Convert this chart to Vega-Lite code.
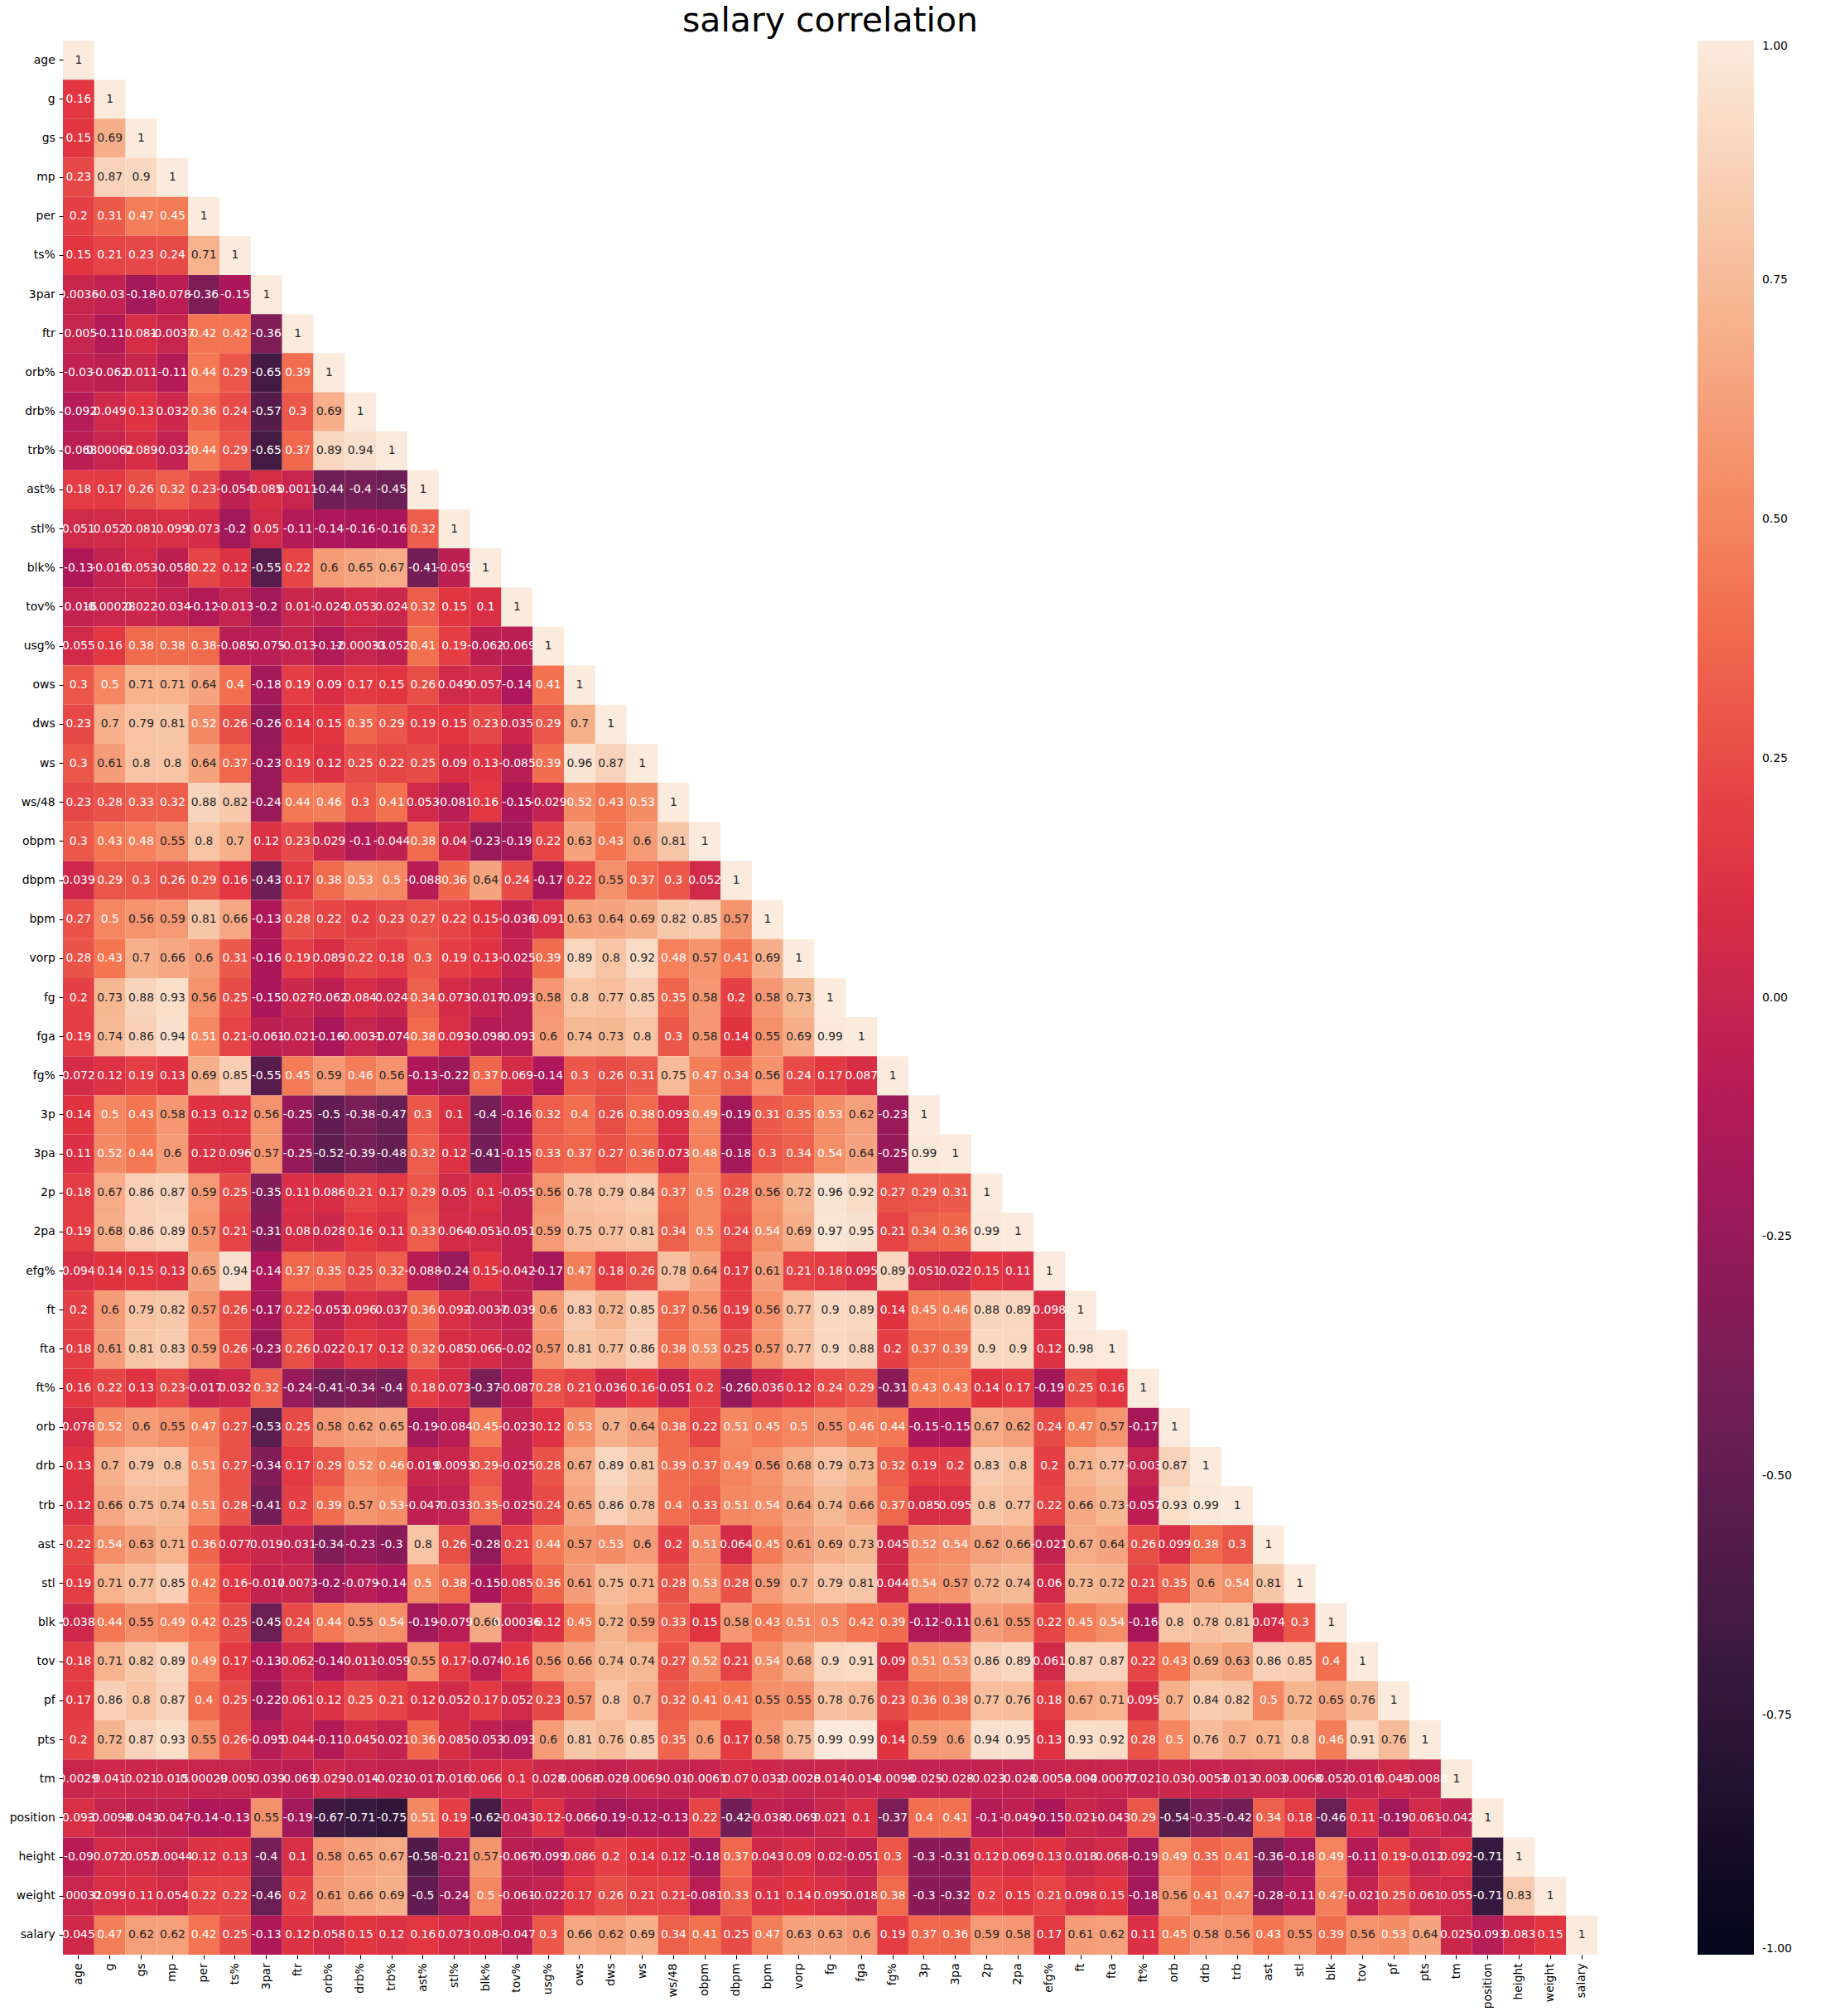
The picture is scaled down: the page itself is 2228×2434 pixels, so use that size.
{
"$schema": "https://vega.github.io/schema/vega-lite/v6.json",
"width": 1853,
"height": 2311,
"padding": {"left": 11, "right": 5, "top": 5, "bottom": 5},
"background": "white",
"title": {"text": "salary correlation", "fontSize": 41, "font": "DejaVu Sans", "fontWeight": "normal", "color": "black", "offset": 2},
"config": {
"view": {"stroke": null},
"locale": {"number": {"decimal": ".", "thousands": ",", "grouping": [3], "currency": ["$", ""], "minus": "-"}},
"axis": {"labelFont": "DejaVu Sans", "labelFontSize": 13.9, "labelColor": "black", "tickColor": "black", "tickSize": 4.9, "tickWidth": 1.1, "domain": false, "labelPadding": 4.9, "title": null, "grid": false}
},
"data": {"values": [
{"r":"age","c":"age","v":1},
{"r":"g","c":"age","v":0.16},{"r":"g","c":"g","v":1},
{"r":"gs","c":"age","v":0.15},{"r":"gs","c":"g","v":0.69},{"r":"gs","c":"gs","v":1},
{"r":"mp","c":"age","v":0.23},{"r":"mp","c":"g","v":0.87},{"r":"mp","c":"gs","v":0.9},{"r":"mp","c":"mp","v":1},
{"r":"per","c":"age","v":0.2},{"r":"per","c":"g","v":0.31},{"r":"per","c":"gs","v":0.47},{"r":"per","c":"mp","v":0.45},{"r":"per","c":"per","v":1},
{"r":"ts%","c":"age","v":0.15},{"r":"ts%","c":"g","v":0.21},{"r":"ts%","c":"gs","v":0.23},{"r":"ts%","c":"mp","v":0.24},{"r":"ts%","c":"per","v":0.71},{"r":"ts%","c":"ts%","v":1},
{"r":"3par","c":"age","v":0.0036},{"r":"3par","c":"g","v":-0.03},{"r":"3par","c":"gs","v":-0.18},{"r":"3par","c":"mp","v":-0.078},{"r":"3par","c":"per","v":-0.36},{"r":"3par","c":"ts%","v":-0.15},{"r":"3par","c":"3par","v":1},
{"r":"ftr","c":"age","v":-0.005},{"r":"ftr","c":"g","v":-0.11},{"r":"ftr","c":"gs","v":0.081},{"r":"ftr","c":"mp","v":-0.0037},{"r":"ftr","c":"per","v":0.42},{"r":"ftr","c":"ts%","v":0.42},{"r":"ftr","c":"3par","v":-0.36},{"r":"ftr","c":"ftr","v":1},
{"r":"orb%","c":"age","v":-0.03},{"r":"orb%","c":"g","v":-0.062},{"r":"orb%","c":"gs","v":0.011},{"r":"orb%","c":"mp","v":-0.11},{"r":"orb%","c":"per","v":0.44},{"r":"orb%","c":"ts%","v":0.29},{"r":"orb%","c":"3par","v":-0.65},{"r":"orb%","c":"ftr","v":0.39},{"r":"orb%","c":"orb%","v":1},
{"r":"drb%","c":"age","v":-0.092},{"r":"drb%","c":"g","v":0.049},{"r":"drb%","c":"gs","v":0.13},{"r":"drb%","c":"mp","v":0.032},{"r":"drb%","c":"per","v":0.36},{"r":"drb%","c":"ts%","v":0.24},{"r":"drb%","c":"3par","v":-0.57},{"r":"drb%","c":"ftr","v":0.3},{"r":"drb%","c":"orb%","v":0.69},{"r":"drb%","c":"drb%","v":1},
{"r":"trb%","c":"age","v":-0.068},{"r":"trb%","c":"g","v":0.00062},{"r":"trb%","c":"gs","v":0.089},{"r":"trb%","c":"mp","v":-0.032},{"r":"trb%","c":"per","v":0.44},{"r":"trb%","c":"ts%","v":0.29},{"r":"trb%","c":"3par","v":-0.65},{"r":"trb%","c":"ftr","v":0.37},{"r":"trb%","c":"orb%","v":0.89},{"r":"trb%","c":"drb%","v":0.94},{"r":"trb%","c":"trb%","v":1},
{"r":"ast%","c":"age","v":0.18},{"r":"ast%","c":"g","v":0.17},{"r":"ast%","c":"gs","v":0.26},{"r":"ast%","c":"mp","v":0.32},{"r":"ast%","c":"per","v":0.23},{"r":"ast%","c":"ts%","v":-0.054},{"r":"ast%","c":"3par","v":0.085},{"r":"ast%","c":"ftr","v":0.0011},{"r":"ast%","c":"orb%","v":-0.44},{"r":"ast%","c":"drb%","v":-0.4},{"r":"ast%","c":"trb%","v":-0.45},{"r":"ast%","c":"ast%","v":1},
{"r":"stl%","c":"age","v":0.051},{"r":"stl%","c":"g","v":0.052},{"r":"stl%","c":"gs","v":0.081},{"r":"stl%","c":"mp","v":0.099},{"r":"stl%","c":"per","v":0.073},{"r":"stl%","c":"ts%","v":-0.2},{"r":"stl%","c":"3par","v":0.05},{"r":"stl%","c":"ftr","v":-0.11},{"r":"stl%","c":"orb%","v":-0.14},{"r":"stl%","c":"drb%","v":-0.16},{"r":"stl%","c":"trb%","v":-0.16},{"r":"stl%","c":"ast%","v":0.32},{"r":"stl%","c":"stl%","v":1},
{"r":"blk%","c":"age","v":-0.13},{"r":"blk%","c":"g","v":-0.016},{"r":"blk%","c":"gs","v":0.053},{"r":"blk%","c":"mp","v":-0.058},{"r":"blk%","c":"per","v":0.22},{"r":"blk%","c":"ts%","v":0.12},{"r":"blk%","c":"3par","v":-0.55},{"r":"blk%","c":"ftr","v":0.22},{"r":"blk%","c":"orb%","v":0.6},{"r":"blk%","c":"drb%","v":0.65},{"r":"blk%","c":"trb%","v":0.67},{"r":"blk%","c":"ast%","v":-0.41},{"r":"blk%","c":"stl%","v":-0.059},{"r":"blk%","c":"blk%","v":1},
{"r":"tov%","c":"age","v":-0.016},{"r":"tov%","c":"g","v":-0.00028},{"r":"tov%","c":"gs","v":0.022},{"r":"tov%","c":"mp","v":-0.034},{"r":"tov%","c":"per","v":-0.12},{"r":"tov%","c":"ts%","v":-0.013},{"r":"tov%","c":"3par","v":-0.2},{"r":"tov%","c":"ftr","v":0.01},{"r":"tov%","c":"orb%","v":-0.024},{"r":"tov%","c":"drb%","v":0.053},{"r":"tov%","c":"trb%","v":0.024},{"r":"tov%","c":"ast%","v":0.32},{"r":"tov%","c":"stl%","v":0.15},{"r":"tov%","c":"blk%","v":0.1},{"r":"tov%","c":"tov%","v":1},
{"r":"usg%","c":"age","v":0.055},{"r":"usg%","c":"g","v":0.16},{"r":"usg%","c":"gs","v":0.38},{"r":"usg%","c":"mp","v":0.38},{"r":"usg%","c":"per","v":0.38},{"r":"usg%","c":"ts%","v":-0.085},{"r":"usg%","c":"3par","v":-0.075},{"r":"usg%","c":"ftr","v":-0.013},{"r":"usg%","c":"orb%","v":-0.12},{"r":"usg%","c":"drb%","v":-0.00033},{"r":"usg%","c":"trb%","v":-0.052},{"r":"usg%","c":"ast%","v":0.41},{"r":"usg%","c":"stl%","v":0.19},{"r":"usg%","c":"blk%","v":-0.062},{"r":"usg%","c":"tov%","v":-0.069},{"r":"usg%","c":"usg%","v":1},
{"r":"ows","c":"age","v":0.3},{"r":"ows","c":"g","v":0.5},{"r":"ows","c":"gs","v":0.71},{"r":"ows","c":"mp","v":0.71},{"r":"ows","c":"per","v":0.64},{"r":"ows","c":"ts%","v":0.4},{"r":"ows","c":"3par","v":-0.18},{"r":"ows","c":"ftr","v":0.19},{"r":"ows","c":"orb%","v":0.09},{"r":"ows","c":"drb%","v":0.17},{"r":"ows","c":"trb%","v":0.15},{"r":"ows","c":"ast%","v":0.26},{"r":"ows","c":"stl%","v":0.049},{"r":"ows","c":"blk%","v":0.057},{"r":"ows","c":"tov%","v":-0.14},{"r":"ows","c":"usg%","v":0.41},{"r":"ows","c":"ows","v":1},
{"r":"dws","c":"age","v":0.23},{"r":"dws","c":"g","v":0.7},{"r":"dws","c":"gs","v":0.79},{"r":"dws","c":"mp","v":0.81},{"r":"dws","c":"per","v":0.52},{"r":"dws","c":"ts%","v":0.26},{"r":"dws","c":"3par","v":-0.26},{"r":"dws","c":"ftr","v":0.14},{"r":"dws","c":"orb%","v":0.15},{"r":"dws","c":"drb%","v":0.35},{"r":"dws","c":"trb%","v":0.29},{"r":"dws","c":"ast%","v":0.19},{"r":"dws","c":"stl%","v":0.15},{"r":"dws","c":"blk%","v":0.23},{"r":"dws","c":"tov%","v":0.035},{"r":"dws","c":"usg%","v":0.29},{"r":"dws","c":"ows","v":0.7},{"r":"dws","c":"dws","v":1},
{"r":"ws","c":"age","v":0.3},{"r":"ws","c":"g","v":0.61},{"r":"ws","c":"gs","v":0.8},{"r":"ws","c":"mp","v":0.8},{"r":"ws","c":"per","v":0.64},{"r":"ws","c":"ts%","v":0.37},{"r":"ws","c":"3par","v":-0.23},{"r":"ws","c":"ftr","v":0.19},{"r":"ws","c":"orb%","v":0.12},{"r":"ws","c":"drb%","v":0.25},{"r":"ws","c":"trb%","v":0.22},{"r":"ws","c":"ast%","v":0.25},{"r":"ws","c":"stl%","v":0.09},{"r":"ws","c":"blk%","v":0.13},{"r":"ws","c":"tov%","v":-0.085},{"r":"ws","c":"usg%","v":0.39},{"r":"ws","c":"ows","v":0.96},{"r":"ws","c":"dws","v":0.87},{"r":"ws","c":"ws","v":1},
{"r":"ws/48","c":"age","v":0.23},{"r":"ws/48","c":"g","v":0.28},{"r":"ws/48","c":"gs","v":0.33},{"r":"ws/48","c":"mp","v":0.32},{"r":"ws/48","c":"per","v":0.88},{"r":"ws/48","c":"ts%","v":0.82},{"r":"ws/48","c":"3par","v":-0.24},{"r":"ws/48","c":"ftr","v":0.44},{"r":"ws/48","c":"orb%","v":0.46},{"r":"ws/48","c":"drb%","v":0.3},{"r":"ws/48","c":"trb%","v":0.41},{"r":"ws/48","c":"ast%","v":0.053},{"r":"ws/48","c":"stl%","v":-0.081},{"r":"ws/48","c":"blk%","v":0.16},{"r":"ws/48","c":"tov%","v":-0.15},{"r":"ws/48","c":"usg%","v":-0.029},{"r":"ws/48","c":"ows","v":0.52},{"r":"ws/48","c":"dws","v":0.43},{"r":"ws/48","c":"ws","v":0.53},{"r":"ws/48","c":"ws/48","v":1},
{"r":"obpm","c":"age","v":0.3},{"r":"obpm","c":"g","v":0.43},{"r":"obpm","c":"gs","v":0.48},{"r":"obpm","c":"mp","v":0.55},{"r":"obpm","c":"per","v":0.8},{"r":"obpm","c":"ts%","v":0.7},{"r":"obpm","c":"3par","v":0.12},{"r":"obpm","c":"ftr","v":0.23},{"r":"obpm","c":"orb%","v":0.029},{"r":"obpm","c":"drb%","v":-0.1},{"r":"obpm","c":"trb%","v":-0.044},{"r":"obpm","c":"ast%","v":0.38},{"r":"obpm","c":"stl%","v":0.04},{"r":"obpm","c":"blk%","v":-0.23},{"r":"obpm","c":"tov%","v":-0.19},{"r":"obpm","c":"usg%","v":0.22},{"r":"obpm","c":"ows","v":0.63},{"r":"obpm","c":"dws","v":0.43},{"r":"obpm","c":"ws","v":0.6},{"r":"obpm","c":"ws/48","v":0.81},{"r":"obpm","c":"obpm","v":1},
{"r":"dbpm","c":"age","v":0.039},{"r":"dbpm","c":"g","v":0.29},{"r":"dbpm","c":"gs","v":0.3},{"r":"dbpm","c":"mp","v":0.26},{"r":"dbpm","c":"per","v":0.29},{"r":"dbpm","c":"ts%","v":0.16},{"r":"dbpm","c":"3par","v":-0.43},{"r":"dbpm","c":"ftr","v":0.17},{"r":"dbpm","c":"orb%","v":0.38},{"r":"dbpm","c":"drb%","v":0.53},{"r":"dbpm","c":"trb%","v":0.5},{"r":"dbpm","c":"ast%","v":-0.088},{"r":"dbpm","c":"stl%","v":0.36},{"r":"dbpm","c":"blk%","v":0.64},{"r":"dbpm","c":"tov%","v":0.24},{"r":"dbpm","c":"usg%","v":-0.17},{"r":"dbpm","c":"ows","v":0.22},{"r":"dbpm","c":"dws","v":0.55},{"r":"dbpm","c":"ws","v":0.37},{"r":"dbpm","c":"ws/48","v":0.3},{"r":"dbpm","c":"obpm","v":0.052},{"r":"dbpm","c":"dbpm","v":1},
{"r":"bpm","c":"age","v":0.27},{"r":"bpm","c":"g","v":0.5},{"r":"bpm","c":"gs","v":0.56},{"r":"bpm","c":"mp","v":0.59},{"r":"bpm","c":"per","v":0.81},{"r":"bpm","c":"ts%","v":0.66},{"r":"bpm","c":"3par","v":-0.13},{"r":"bpm","c":"ftr","v":0.28},{"r":"bpm","c":"orb%","v":0.22},{"r":"bpm","c":"drb%","v":0.2},{"r":"bpm","c":"trb%","v":0.23},{"r":"bpm","c":"ast%","v":0.27},{"r":"bpm","c":"stl%","v":0.22},{"r":"bpm","c":"blk%","v":0.15},{"r":"bpm","c":"tov%","v":-0.036},{"r":"bpm","c":"usg%","v":0.091},{"r":"bpm","c":"ows","v":0.63},{"r":"bpm","c":"dws","v":0.64},{"r":"bpm","c":"ws","v":0.69},{"r":"bpm","c":"ws/48","v":0.82},{"r":"bpm","c":"obpm","v":0.85},{"r":"bpm","c":"dbpm","v":0.57},{"r":"bpm","c":"bpm","v":1},
{"r":"vorp","c":"age","v":0.28},{"r":"vorp","c":"g","v":0.43},{"r":"vorp","c":"gs","v":0.7},{"r":"vorp","c":"mp","v":0.66},{"r":"vorp","c":"per","v":0.6},{"r":"vorp","c":"ts%","v":0.31},{"r":"vorp","c":"3par","v":-0.16},{"r":"vorp","c":"ftr","v":0.19},{"r":"vorp","c":"orb%","v":0.089},{"r":"vorp","c":"drb%","v":0.22},{"r":"vorp","c":"trb%","v":0.18},{"r":"vorp","c":"ast%","v":0.3},{"r":"vorp","c":"stl%","v":0.19},{"r":"vorp","c":"blk%","v":0.13},{"r":"vorp","c":"tov%","v":-0.025},{"r":"vorp","c":"usg%","v":0.39},{"r":"vorp","c":"ows","v":0.89},{"r":"vorp","c":"dws","v":0.8},{"r":"vorp","c":"ws","v":0.92},{"r":"vorp","c":"ws/48","v":0.48},{"r":"vorp","c":"obpm","v":0.57},{"r":"vorp","c":"dbpm","v":0.41},{"r":"vorp","c":"bpm","v":0.69},{"r":"vorp","c":"vorp","v":1},
{"r":"fg","c":"age","v":0.2},{"r":"fg","c":"g","v":0.73},{"r":"fg","c":"gs","v":0.88},{"r":"fg","c":"mp","v":0.93},{"r":"fg","c":"per","v":0.56},{"r":"fg","c":"ts%","v":0.25},{"r":"fg","c":"3par","v":-0.15},{"r":"fg","c":"ftr","v":0.027},{"r":"fg","c":"orb%","v":-0.062},{"r":"fg","c":"drb%","v":0.084},{"r":"fg","c":"trb%","v":0.024},{"r":"fg","c":"ast%","v":0.34},{"r":"fg","c":"stl%","v":0.073},{"r":"fg","c":"blk%","v":-0.017},{"r":"fg","c":"tov%","v":-0.093},{"r":"fg","c":"usg%","v":0.58},{"r":"fg","c":"ows","v":0.8},{"r":"fg","c":"dws","v":0.77},{"r":"fg","c":"ws","v":0.85},{"r":"fg","c":"ws/48","v":0.35},{"r":"fg","c":"obpm","v":0.58},{"r":"fg","c":"dbpm","v":0.2},{"r":"fg","c":"bpm","v":0.58},{"r":"fg","c":"vorp","v":0.73},{"r":"fg","c":"fg","v":1},
{"r":"fga","c":"age","v":0.19},{"r":"fga","c":"g","v":0.74},{"r":"fga","c":"gs","v":0.86},{"r":"fga","c":"mp","v":0.94},{"r":"fga","c":"per","v":0.51},{"r":"fga","c":"ts%","v":0.21},{"r":"fga","c":"3par","v":-0.061},{"r":"fga","c":"ftr","v":-0.021},{"r":"fga","c":"orb%","v":-0.16},{"r":"fga","c":"drb%","v":-0.0031},{"r":"fga","c":"trb%","v":-0.074},{"r":"fga","c":"ast%","v":0.38},{"r":"fga","c":"stl%","v":0.093},{"r":"fga","c":"blk%","v":-0.098},{"r":"fga","c":"tov%","v":-0.093},{"r":"fga","c":"usg%","v":0.6},{"r":"fga","c":"ows","v":0.74},{"r":"fga","c":"dws","v":0.73},{"r":"fga","c":"ws","v":0.8},{"r":"fga","c":"ws/48","v":0.3},{"r":"fga","c":"obpm","v":0.58},{"r":"fga","c":"dbpm","v":0.14},{"r":"fga","c":"bpm","v":0.55},{"r":"fga","c":"vorp","v":0.69},{"r":"fga","c":"fg","v":0.99},{"r":"fga","c":"fga","v":1},
{"r":"fg%","c":"age","v":0.072},{"r":"fg%","c":"g","v":0.12},{"r":"fg%","c":"gs","v":0.19},{"r":"fg%","c":"mp","v":0.13},{"r":"fg%","c":"per","v":0.69},{"r":"fg%","c":"ts%","v":0.85},{"r":"fg%","c":"3par","v":-0.55},{"r":"fg%","c":"ftr","v":0.45},{"r":"fg%","c":"orb%","v":0.59},{"r":"fg%","c":"drb%","v":0.46},{"r":"fg%","c":"trb%","v":0.56},{"r":"fg%","c":"ast%","v":-0.13},{"r":"fg%","c":"stl%","v":-0.22},{"r":"fg%","c":"blk%","v":0.37},{"r":"fg%","c":"tov%","v":0.069},{"r":"fg%","c":"usg%","v":-0.14},{"r":"fg%","c":"ows","v":0.3},{"r":"fg%","c":"dws","v":0.26},{"r":"fg%","c":"ws","v":0.31},{"r":"fg%","c":"ws/48","v":0.75},{"r":"fg%","c":"obpm","v":0.47},{"r":"fg%","c":"dbpm","v":0.34},{"r":"fg%","c":"bpm","v":0.56},{"r":"fg%","c":"vorp","v":0.24},{"r":"fg%","c":"fg","v":0.17},{"r":"fg%","c":"fga","v":0.087},{"r":"fg%","c":"fg%","v":1},
{"r":"3p","c":"age","v":0.14},{"r":"3p","c":"g","v":0.5},{"r":"3p","c":"gs","v":0.43},{"r":"3p","c":"mp","v":0.58},{"r":"3p","c":"per","v":0.13},{"r":"3p","c":"ts%","v":0.12},{"r":"3p","c":"3par","v":0.56},{"r":"3p","c":"ftr","v":-0.25},{"r":"3p","c":"orb%","v":-0.5},{"r":"3p","c":"drb%","v":-0.38},{"r":"3p","c":"trb%","v":-0.47},{"r":"3p","c":"ast%","v":0.3},{"r":"3p","c":"stl%","v":0.1},{"r":"3p","c":"blk%","v":-0.4},{"r":"3p","c":"tov%","v":-0.16},{"r":"3p","c":"usg%","v":0.32},{"r":"3p","c":"ows","v":0.4},{"r":"3p","c":"dws","v":0.26},{"r":"3p","c":"ws","v":0.38},{"r":"3p","c":"ws/48","v":0.093},{"r":"3p","c":"obpm","v":0.49},{"r":"3p","c":"dbpm","v":-0.19},{"r":"3p","c":"bpm","v":0.31},{"r":"3p","c":"vorp","v":0.35},{"r":"3p","c":"fg","v":0.53},{"r":"3p","c":"fga","v":0.62},{"r":"3p","c":"fg%","v":-0.23},{"r":"3p","c":"3p","v":1},
{"r":"3pa","c":"age","v":0.11},{"r":"3pa","c":"g","v":0.52},{"r":"3pa","c":"gs","v":0.44},{"r":"3pa","c":"mp","v":0.6},{"r":"3pa","c":"per","v":0.12},{"r":"3pa","c":"ts%","v":0.096},{"r":"3pa","c":"3par","v":0.57},{"r":"3pa","c":"ftr","v":-0.25},{"r":"3pa","c":"orb%","v":-0.52},{"r":"3pa","c":"drb%","v":-0.39},{"r":"3pa","c":"trb%","v":-0.48},{"r":"3pa","c":"ast%","v":0.32},{"r":"3pa","c":"stl%","v":0.12},{"r":"3pa","c":"blk%","v":-0.41},{"r":"3pa","c":"tov%","v":-0.15},{"r":"3pa","c":"usg%","v":0.33},{"r":"3pa","c":"ows","v":0.37},{"r":"3pa","c":"dws","v":0.27},{"r":"3pa","c":"ws","v":0.36},{"r":"3pa","c":"ws/48","v":0.073},{"r":"3pa","c":"obpm","v":0.48},{"r":"3pa","c":"dbpm","v":-0.18},{"r":"3pa","c":"bpm","v":0.3},{"r":"3pa","c":"vorp","v":0.34},{"r":"3pa","c":"fg","v":0.54},{"r":"3pa","c":"fga","v":0.64},{"r":"3pa","c":"fg%","v":-0.25},{"r":"3pa","c":"3p","v":0.99},{"r":"3pa","c":"3pa","v":1},
{"r":"2p","c":"age","v":0.18},{"r":"2p","c":"g","v":0.67},{"r":"2p","c":"gs","v":0.86},{"r":"2p","c":"mp","v":0.87},{"r":"2p","c":"per","v":0.59},{"r":"2p","c":"ts%","v":0.25},{"r":"2p","c":"3par","v":-0.35},{"r":"2p","c":"ftr","v":0.11},{"r":"2p","c":"orb%","v":0.086},{"r":"2p","c":"drb%","v":0.21},{"r":"2p","c":"trb%","v":0.17},{"r":"2p","c":"ast%","v":0.29},{"r":"2p","c":"stl%","v":0.05},{"r":"2p","c":"blk%","v":0.1},{"r":"2p","c":"tov%","v":-0.055},{"r":"2p","c":"usg%","v":0.56},{"r":"2p","c":"ows","v":0.78},{"r":"2p","c":"dws","v":0.79},{"r":"2p","c":"ws","v":0.84},{"r":"2p","c":"ws/48","v":0.37},{"r":"2p","c":"obpm","v":0.5},{"r":"2p","c":"dbpm","v":0.28},{"r":"2p","c":"bpm","v":0.56},{"r":"2p","c":"vorp","v":0.72},{"r":"2p","c":"fg","v":0.96},{"r":"2p","c":"fga","v":0.92},{"r":"2p","c":"fg%","v":0.27},{"r":"2p","c":"3p","v":0.29},{"r":"2p","c":"3pa","v":0.31},{"r":"2p","c":"2p","v":1},
{"r":"2pa","c":"age","v":0.19},{"r":"2pa","c":"g","v":0.68},{"r":"2pa","c":"gs","v":0.86},{"r":"2pa","c":"mp","v":0.89},{"r":"2pa","c":"per","v":0.57},{"r":"2pa","c":"ts%","v":0.21},{"r":"2pa","c":"3par","v":-0.31},{"r":"2pa","c":"ftr","v":0.08},{"r":"2pa","c":"orb%","v":0.028},{"r":"2pa","c":"drb%","v":0.16},{"r":"2pa","c":"trb%","v":0.11},{"r":"2pa","c":"ast%","v":0.33},{"r":"2pa","c":"stl%","v":0.064},{"r":"2pa","c":"blk%","v":0.051},{"r":"2pa","c":"tov%","v":-0.051},{"r":"2pa","c":"usg%","v":0.59},{"r":"2pa","c":"ows","v":0.75},{"r":"2pa","c":"dws","v":0.77},{"r":"2pa","c":"ws","v":0.81},{"r":"2pa","c":"ws/48","v":0.34},{"r":"2pa","c":"obpm","v":0.5},{"r":"2pa","c":"dbpm","v":0.24},{"r":"2pa","c":"bpm","v":0.54},{"r":"2pa","c":"vorp","v":0.69},{"r":"2pa","c":"fg","v":0.97},{"r":"2pa","c":"fga","v":0.95},{"r":"2pa","c":"fg%","v":0.21},{"r":"2pa","c":"3p","v":0.34},{"r":"2pa","c":"3pa","v":0.36},{"r":"2pa","c":"2p","v":0.99},{"r":"2pa","c":"2pa","v":1},
{"r":"efg%","c":"age","v":0.094},{"r":"efg%","c":"g","v":0.14},{"r":"efg%","c":"gs","v":0.15},{"r":"efg%","c":"mp","v":0.13},{"r":"efg%","c":"per","v":0.65},{"r":"efg%","c":"ts%","v":0.94},{"r":"efg%","c":"3par","v":-0.14},{"r":"efg%","c":"ftr","v":0.37},{"r":"efg%","c":"orb%","v":0.35},{"r":"efg%","c":"drb%","v":0.25},{"r":"efg%","c":"trb%","v":0.32},{"r":"efg%","c":"ast%","v":-0.088},{"r":"efg%","c":"stl%","v":-0.24},{"r":"efg%","c":"blk%","v":0.15},{"r":"efg%","c":"tov%","v":-0.042},{"r":"efg%","c":"usg%","v":-0.17},{"r":"efg%","c":"ows","v":0.47},{"r":"efg%","c":"dws","v":0.18},{"r":"efg%","c":"ws","v":0.26},{"r":"efg%","c":"ws/48","v":0.78},{"r":"efg%","c":"obpm","v":0.64},{"r":"efg%","c":"dbpm","v":0.17},{"r":"efg%","c":"bpm","v":0.61},{"r":"efg%","c":"vorp","v":0.21},{"r":"efg%","c":"fg","v":0.18},{"r":"efg%","c":"fga","v":0.095},{"r":"efg%","c":"fg%","v":0.89},{"r":"efg%","c":"3p","v":0.051},{"r":"efg%","c":"3pa","v":0.022},{"r":"efg%","c":"2p","v":0.15},{"r":"efg%","c":"2pa","v":0.11},{"r":"efg%","c":"efg%","v":1},
{"r":"ft","c":"age","v":0.2},{"r":"ft","c":"g","v":0.6},{"r":"ft","c":"gs","v":0.79},{"r":"ft","c":"mp","v":0.82},{"r":"ft","c":"per","v":0.57},{"r":"ft","c":"ts%","v":0.26},{"r":"ft","c":"3par","v":-0.17},{"r":"ft","c":"ftr","v":0.22},{"r":"ft","c":"orb%","v":-0.053},{"r":"ft","c":"drb%","v":0.096},{"r":"ft","c":"trb%","v":0.037},{"r":"ft","c":"ast%","v":0.36},{"r":"ft","c":"stl%","v":0.092},{"r":"ft","c":"blk%","v":-0.0037},{"r":"ft","c":"tov%","v":-0.039},{"r":"ft","c":"usg%","v":0.6},{"r":"ft","c":"ows","v":0.83},{"r":"ft","c":"dws","v":0.72},{"r":"ft","c":"ws","v":0.85},{"r":"ft","c":"ws/48","v":0.37},{"r":"ft","c":"obpm","v":0.56},{"r":"ft","c":"dbpm","v":0.19},{"r":"ft","c":"bpm","v":0.56},{"r":"ft","c":"vorp","v":0.77},{"r":"ft","c":"fg","v":0.9},{"r":"ft","c":"fga","v":0.89},{"r":"ft","c":"fg%","v":0.14},{"r":"ft","c":"3p","v":0.45},{"r":"ft","c":"3pa","v":0.46},{"r":"ft","c":"2p","v":0.88},{"r":"ft","c":"2pa","v":0.89},{"r":"ft","c":"efg%","v":0.098},{"r":"ft","c":"ft","v":1},
{"r":"fta","c":"age","v":0.18},{"r":"fta","c":"g","v":0.61},{"r":"fta","c":"gs","v":0.81},{"r":"fta","c":"mp","v":0.83},{"r":"fta","c":"per","v":0.59},{"r":"fta","c":"ts%","v":0.26},{"r":"fta","c":"3par","v":-0.23},{"r":"fta","c":"ftr","v":0.26},{"r":"fta","c":"orb%","v":0.022},{"r":"fta","c":"drb%","v":0.17},{"r":"fta","c":"trb%","v":0.12},{"r":"fta","c":"ast%","v":0.32},{"r":"fta","c":"stl%","v":0.085},{"r":"fta","c":"blk%","v":0.066},{"r":"fta","c":"tov%","v":-0.02},{"r":"fta","c":"usg%","v":0.57},{"r":"fta","c":"ows","v":0.81},{"r":"fta","c":"dws","v":0.77},{"r":"fta","c":"ws","v":0.86},{"r":"fta","c":"ws/48","v":0.38},{"r":"fta","c":"obpm","v":0.53},{"r":"fta","c":"dbpm","v":0.25},{"r":"fta","c":"bpm","v":0.57},{"r":"fta","c":"vorp","v":0.77},{"r":"fta","c":"fg","v":0.9},{"r":"fta","c":"fga","v":0.88},{"r":"fta","c":"fg%","v":0.2},{"r":"fta","c":"3p","v":0.37},{"r":"fta","c":"3pa","v":0.39},{"r":"fta","c":"2p","v":0.9},{"r":"fta","c":"2pa","v":0.9},{"r":"fta","c":"efg%","v":0.12},{"r":"fta","c":"ft","v":0.98},{"r":"fta","c":"fta","v":1},
{"r":"ft%","c":"age","v":0.16},{"r":"ft%","c":"g","v":0.22},{"r":"ft%","c":"gs","v":0.13},{"r":"ft%","c":"mp","v":0.23},{"r":"ft%","c":"per","v":-0.017},{"r":"ft%","c":"ts%","v":0.032},{"r":"ft%","c":"3par","v":0.32},{"r":"ft%","c":"ftr","v":-0.24},{"r":"ft%","c":"orb%","v":-0.41},{"r":"ft%","c":"drb%","v":-0.34},{"r":"ft%","c":"trb%","v":-0.4},{"r":"ft%","c":"ast%","v":0.18},{"r":"ft%","c":"stl%","v":0.073},{"r":"ft%","c":"blk%","v":-0.37},{"r":"ft%","c":"tov%","v":-0.087},{"r":"ft%","c":"usg%","v":0.28},{"r":"ft%","c":"ows","v":0.21},{"r":"ft%","c":"dws","v":0.036},{"r":"ft%","c":"ws","v":0.16},{"r":"ft%","c":"ws/48","v":-0.051},{"r":"ft%","c":"obpm","v":0.2},{"r":"ft%","c":"dbpm","v":-0.26},{"r":"ft%","c":"bpm","v":0.036},{"r":"ft%","c":"vorp","v":0.12},{"r":"ft%","c":"fg","v":0.24},{"r":"ft%","c":"fga","v":0.29},{"r":"ft%","c":"fg%","v":-0.31},{"r":"ft%","c":"3p","v":0.43},{"r":"ft%","c":"3pa","v":0.43},{"r":"ft%","c":"2p","v":0.14},{"r":"ft%","c":"2pa","v":0.17},{"r":"ft%","c":"efg%","v":-0.19},{"r":"ft%","c":"ft","v":0.25},{"r":"ft%","c":"fta","v":0.16},{"r":"ft%","c":"ft%","v":1},
{"r":"orb","c":"age","v":0.078},{"r":"orb","c":"g","v":0.52},{"r":"orb","c":"gs","v":0.6},{"r":"orb","c":"mp","v":0.55},{"r":"orb","c":"per","v":0.47},{"r":"orb","c":"ts%","v":0.27},{"r":"orb","c":"3par","v":-0.53},{"r":"orb","c":"ftr","v":0.25},{"r":"orb","c":"orb%","v":0.58},{"r":"orb","c":"drb%","v":0.62},{"r":"orb","c":"trb%","v":0.65},{"r":"orb","c":"ast%","v":-0.19},{"r":"orb","c":"stl%","v":-0.084},{"r":"orb","c":"blk%","v":0.45},{"r":"orb","c":"tov%","v":-0.023},{"r":"orb","c":"usg%","v":0.12},{"r":"orb","c":"ows","v":0.53},{"r":"orb","c":"dws","v":0.7},{"r":"orb","c":"ws","v":0.64},{"r":"orb","c":"ws/48","v":0.38},{"r":"orb","c":"obpm","v":0.22},{"r":"orb","c":"dbpm","v":0.51},{"r":"orb","c":"bpm","v":0.45},{"r":"orb","c":"vorp","v":0.5},{"r":"orb","c":"fg","v":0.55},{"r":"orb","c":"fga","v":0.46},{"r":"orb","c":"fg%","v":0.44},{"r":"orb","c":"3p","v":-0.15},{"r":"orb","c":"3pa","v":-0.15},{"r":"orb","c":"2p","v":0.67},{"r":"orb","c":"2pa","v":0.62},{"r":"orb","c":"efg%","v":0.24},{"r":"orb","c":"ft","v":0.47},{"r":"orb","c":"fta","v":0.57},{"r":"orb","c":"ft%","v":-0.17},{"r":"orb","c":"orb","v":1},
{"r":"drb","c":"age","v":0.13},{"r":"drb","c":"g","v":0.7},{"r":"drb","c":"gs","v":0.79},{"r":"drb","c":"mp","v":0.8},{"r":"drb","c":"per","v":0.51},{"r":"drb","c":"ts%","v":0.27},{"r":"drb","c":"3par","v":-0.34},{"r":"drb","c":"ftr","v":0.17},{"r":"drb","c":"orb%","v":0.29},{"r":"drb","c":"drb%","v":0.52},{"r":"drb","c":"trb%","v":0.46},{"r":"drb","c":"ast%","v":0.019},{"r":"drb","c":"stl%","v":0.0093},{"r":"drb","c":"blk%","v":0.29},{"r":"drb","c":"tov%","v":-0.025},{"r":"drb","c":"usg%","v":0.28},{"r":"drb","c":"ows","v":0.67},{"r":"drb","c":"dws","v":0.89},{"r":"drb","c":"ws","v":0.81},{"r":"drb","c":"ws/48","v":0.39},{"r":"drb","c":"obpm","v":0.37},{"r":"drb","c":"dbpm","v":0.49},{"r":"drb","c":"bpm","v":0.56},{"r":"drb","c":"vorp","v":0.68},{"r":"drb","c":"fg","v":0.79},{"r":"drb","c":"fga","v":0.73},{"r":"drb","c":"fg%","v":0.32},{"r":"drb","c":"3p","v":0.19},{"r":"drb","c":"3pa","v":0.2},{"r":"drb","c":"2p","v":0.83},{"r":"drb","c":"2pa","v":0.8},{"r":"drb","c":"efg%","v":0.2},{"r":"drb","c":"ft","v":0.71},{"r":"drb","c":"fta","v":0.77},{"r":"drb","c":"ft%","v":-0.003},{"r":"drb","c":"orb","v":0.87},{"r":"drb","c":"drb","v":1},
{"r":"trb","c":"age","v":0.12},{"r":"trb","c":"g","v":0.66},{"r":"trb","c":"gs","v":0.75},{"r":"trb","c":"mp","v":0.74},{"r":"trb","c":"per","v":0.51},{"r":"trb","c":"ts%","v":0.28},{"r":"trb","c":"3par","v":-0.41},{"r":"trb","c":"ftr","v":0.2},{"r":"trb","c":"orb%","v":0.39},{"r":"trb","c":"drb%","v":0.57},{"r":"trb","c":"trb%","v":0.53},{"r":"trb","c":"ast%","v":-0.047},{"r":"trb","c":"stl%","v":-0.033},{"r":"trb","c":"blk%","v":0.35},{"r":"trb","c":"tov%","v":-0.025},{"r":"trb","c":"usg%","v":0.24},{"r":"trb","c":"ows","v":0.65},{"r":"trb","c":"dws","v":0.86},{"r":"trb","c":"ws","v":0.78},{"r":"trb","c":"ws/48","v":0.4},{"r":"trb","c":"obpm","v":0.33},{"r":"trb","c":"dbpm","v":0.51},{"r":"trb","c":"bpm","v":0.54},{"r":"trb","c":"vorp","v":0.64},{"r":"trb","c":"fg","v":0.74},{"r":"trb","c":"fga","v":0.66},{"r":"trb","c":"fg%","v":0.37},{"r":"trb","c":"3p","v":0.085},{"r":"trb","c":"3pa","v":0.095},{"r":"trb","c":"2p","v":0.8},{"r":"trb","c":"2pa","v":0.77},{"r":"trb","c":"efg%","v":0.22},{"r":"trb","c":"ft","v":0.66},{"r":"trb","c":"fta","v":0.73},{"r":"trb","c":"ft%","v":-0.057},{"r":"trb","c":"orb","v":0.93},{"r":"trb","c":"drb","v":0.99},{"r":"trb","c":"trb","v":1},
{"r":"ast","c":"age","v":0.22},{"r":"ast","c":"g","v":0.54},{"r":"ast","c":"gs","v":0.63},{"r":"ast","c":"mp","v":0.71},{"r":"ast","c":"per","v":0.36},{"r":"ast","c":"ts%","v":0.077},{"r":"ast","c":"3par","v":0.019},{"r":"ast","c":"ftr","v":-0.031},{"r":"ast","c":"orb%","v":-0.34},{"r":"ast","c":"drb%","v":-0.23},{"r":"ast","c":"trb%","v":-0.3},{"r":"ast","c":"ast%","v":0.8},{"r":"ast","c":"stl%","v":0.26},{"r":"ast","c":"blk%","v":-0.28},{"r":"ast","c":"tov%","v":0.21},{"r":"ast","c":"usg%","v":0.44},{"r":"ast","c":"ows","v":0.57},{"r":"ast","c":"dws","v":0.53},{"r":"ast","c":"ws","v":0.6},{"r":"ast","c":"ws/48","v":0.2},{"r":"ast","c":"obpm","v":0.51},{"r":"ast","c":"dbpm","v":0.064},{"r":"ast","c":"bpm","v":0.45},{"r":"ast","c":"vorp","v":0.61},{"r":"ast","c":"fg","v":0.69},{"r":"ast","c":"fga","v":0.73},{"r":"ast","c":"fg%","v":0.045},{"r":"ast","c":"3p","v":0.52},{"r":"ast","c":"3pa","v":0.54},{"r":"ast","c":"2p","v":0.62},{"r":"ast","c":"2pa","v":0.66},{"r":"ast","c":"efg%","v":-0.021},{"r":"ast","c":"ft","v":0.67},{"r":"ast","c":"fta","v":0.64},{"r":"ast","c":"ft%","v":0.26},{"r":"ast","c":"orb","v":0.099},{"r":"ast","c":"drb","v":0.38},{"r":"ast","c":"trb","v":0.3},{"r":"ast","c":"ast","v":1},
{"r":"stl","c":"age","v":0.19},{"r":"stl","c":"g","v":0.71},{"r":"stl","c":"gs","v":0.77},{"r":"stl","c":"mp","v":0.85},{"r":"stl","c":"per","v":0.42},{"r":"stl","c":"ts%","v":0.16},{"r":"stl","c":"3par","v":-0.017},{"r":"stl","c":"ftr","v":0.0073},{"r":"stl","c":"orb%","v":-0.2},{"r":"stl","c":"drb%","v":-0.079},{"r":"stl","c":"trb%","v":-0.14},{"r":"stl","c":"ast%","v":0.5},{"r":"stl","c":"stl%","v":0.38},{"r":"stl","c":"blk%","v":-0.15},{"r":"stl","c":"tov%","v":0.085},{"r":"stl","c":"usg%","v":0.36},{"r":"stl","c":"ows","v":0.61},{"r":"stl","c":"dws","v":0.75},{"r":"stl","c":"ws","v":0.71},{"r":"stl","c":"ws/48","v":0.28},{"r":"stl","c":"obpm","v":0.53},{"r":"stl","c":"dbpm","v":0.28},{"r":"stl","c":"bpm","v":0.59},{"r":"stl","c":"vorp","v":0.7},{"r":"stl","c":"fg","v":0.79},{"r":"stl","c":"fga","v":0.81},{"r":"stl","c":"fg%","v":0.044},{"r":"stl","c":"3p","v":0.54},{"r":"stl","c":"3pa","v":0.57},{"r":"stl","c":"2p","v":0.72},{"r":"stl","c":"2pa","v":0.74},{"r":"stl","c":"efg%","v":0.06},{"r":"stl","c":"ft","v":0.73},{"r":"stl","c":"fta","v":0.72},{"r":"stl","c":"ft%","v":0.21},{"r":"stl","c":"orb","v":0.35},{"r":"stl","c":"drb","v":0.6},{"r":"stl","c":"trb","v":0.54},{"r":"stl","c":"ast","v":0.81},{"r":"stl","c":"stl","v":1},
{"r":"blk","c":"age","v":0.038},{"r":"blk","c":"g","v":0.44},{"r":"blk","c":"gs","v":0.55},{"r":"blk","c":"mp","v":0.49},{"r":"blk","c":"per","v":0.42},{"r":"blk","c":"ts%","v":0.25},{"r":"blk","c":"3par","v":-0.45},{"r":"blk","c":"ftr","v":0.24},{"r":"blk","c":"orb%","v":0.44},{"r":"blk","c":"drb%","v":0.55},{"r":"blk","c":"trb%","v":0.54},{"r":"blk","c":"ast%","v":-0.19},{"r":"blk","c":"stl%","v":-0.079},{"r":"blk","c":"blk%","v":0.66},{"r":"blk","c":"tov%","v":0.00036},{"r":"blk","c":"usg%","v":0.12},{"r":"blk","c":"ows","v":0.45},{"r":"blk","c":"dws","v":0.72},{"r":"blk","c":"ws","v":0.59},{"r":"blk","c":"ws/48","v":0.33},{"r":"blk","c":"obpm","v":0.15},{"r":"blk","c":"dbpm","v":0.58},{"r":"blk","c":"bpm","v":0.43},{"r":"blk","c":"vorp","v":0.51},{"r":"blk","c":"fg","v":0.5},{"r":"blk","c":"fga","v":0.42},{"r":"blk","c":"fg%","v":0.39},{"r":"blk","c":"3p","v":-0.12},{"r":"blk","c":"3pa","v":-0.11},{"r":"blk","c":"2p","v":0.61},{"r":"blk","c":"2pa","v":0.55},{"r":"blk","c":"efg%","v":0.22},{"r":"blk","c":"ft","v":0.45},{"r":"blk","c":"fta","v":0.54},{"r":"blk","c":"ft%","v":-0.16},{"r":"blk","c":"orb","v":0.8},{"r":"blk","c":"drb","v":0.78},{"r":"blk","c":"trb","v":0.81},{"r":"blk","c":"ast","v":0.074},{"r":"blk","c":"stl","v":0.3},{"r":"blk","c":"blk","v":1},
{"r":"tov","c":"age","v":0.18},{"r":"tov","c":"g","v":0.71},{"r":"tov","c":"gs","v":0.82},{"r":"tov","c":"mp","v":0.89},{"r":"tov","c":"per","v":0.49},{"r":"tov","c":"ts%","v":0.17},{"r":"tov","c":"3par","v":-0.13},{"r":"tov","c":"ftr","v":0.062},{"r":"tov","c":"orb%","v":-0.14},{"r":"tov","c":"drb%","v":0.011},{"r":"tov","c":"trb%","v":-0.059},{"r":"tov","c":"ast%","v":0.55},{"r":"tov","c":"stl%","v":0.17},{"r":"tov","c":"blk%","v":-0.074},{"r":"tov","c":"tov%","v":0.16},{"r":"tov","c":"usg%","v":0.56},{"r":"tov","c":"ows","v":0.66},{"r":"tov","c":"dws","v":0.74},{"r":"tov","c":"ws","v":0.74},{"r":"tov","c":"ws/48","v":0.27},{"r":"tov","c":"obpm","v":0.52},{"r":"tov","c":"dbpm","v":0.21},{"r":"tov","c":"bpm","v":0.54},{"r":"tov","c":"vorp","v":0.68},{"r":"tov","c":"fg","v":0.9},{"r":"tov","c":"fga","v":0.91},{"r":"tov","c":"fg%","v":0.09},{"r":"tov","c":"3p","v":0.51},{"r":"tov","c":"3pa","v":0.53},{"r":"tov","c":"2p","v":0.86},{"r":"tov","c":"2pa","v":0.89},{"r":"tov","c":"efg%","v":0.061},{"r":"tov","c":"ft","v":0.87},{"r":"tov","c":"fta","v":0.87},{"r":"tov","c":"ft%","v":0.22},{"r":"tov","c":"orb","v":0.43},{"r":"tov","c":"drb","v":0.69},{"r":"tov","c":"trb","v":0.63},{"r":"tov","c":"ast","v":0.86},{"r":"tov","c":"stl","v":0.85},{"r":"tov","c":"blk","v":0.4},{"r":"tov","c":"tov","v":1},
{"r":"pf","c":"age","v":0.17},{"r":"pf","c":"g","v":0.86},{"r":"pf","c":"gs","v":0.8},{"r":"pf","c":"mp","v":0.87},{"r":"pf","c":"per","v":0.4},{"r":"pf","c":"ts%","v":0.25},{"r":"pf","c":"3par","v":-0.22},{"r":"pf","c":"ftr","v":0.061},{"r":"pf","c":"orb%","v":0.12},{"r":"pf","c":"drb%","v":0.25},{"r":"pf","c":"trb%","v":0.21},{"r":"pf","c":"ast%","v":0.12},{"r":"pf","c":"stl%","v":0.052},{"r":"pf","c":"blk%","v":0.17},{"r":"pf","c":"tov%","v":0.052},{"r":"pf","c":"usg%","v":0.23},{"r":"pf","c":"ows","v":0.57},{"r":"pf","c":"dws","v":0.8},{"r":"pf","c":"ws","v":0.7},{"r":"pf","c":"ws/48","v":0.32},{"r":"pf","c":"obpm","v":0.41},{"r":"pf","c":"dbpm","v":0.41},{"r":"pf","c":"bpm","v":0.55},{"r":"pf","c":"vorp","v":0.55},{"r":"pf","c":"fg","v":0.78},{"r":"pf","c":"fga","v":0.76},{"r":"pf","c":"fg%","v":0.23},{"r":"pf","c":"3p","v":0.36},{"r":"pf","c":"3pa","v":0.38},{"r":"pf","c":"2p","v":0.77},{"r":"pf","c":"2pa","v":0.76},{"r":"pf","c":"efg%","v":0.18},{"r":"pf","c":"ft","v":0.67},{"r":"pf","c":"fta","v":0.71},{"r":"pf","c":"ft%","v":0.095},{"r":"pf","c":"orb","v":0.7},{"r":"pf","c":"drb","v":0.84},{"r":"pf","c":"trb","v":0.82},{"r":"pf","c":"ast","v":0.5},{"r":"pf","c":"stl","v":0.72},{"r":"pf","c":"blk","v":0.65},{"r":"pf","c":"tov","v":0.76},{"r":"pf","c":"pf","v":1},
{"r":"pts","c":"age","v":0.2},{"r":"pts","c":"g","v":0.72},{"r":"pts","c":"gs","v":0.87},{"r":"pts","c":"mp","v":0.93},{"r":"pts","c":"per","v":0.55},{"r":"pts","c":"ts%","v":0.26},{"r":"pts","c":"3par","v":-0.095},{"r":"pts","c":"ftr","v":0.044},{"r":"pts","c":"orb%","v":-0.11},{"r":"pts","c":"drb%","v":0.045},{"r":"pts","c":"trb%","v":-0.021},{"r":"pts","c":"ast%","v":0.36},{"r":"pts","c":"stl%","v":0.085},{"r":"pts","c":"blk%","v":-0.053},{"r":"pts","c":"tov%","v":-0.093},{"r":"pts","c":"usg%","v":0.6},{"r":"pts","c":"ows","v":0.81},{"r":"pts","c":"dws","v":0.76},{"r":"pts","c":"ws","v":0.85},{"r":"pts","c":"ws/48","v":0.35},{"r":"pts","c":"obpm","v":0.6},{"r":"pts","c":"dbpm","v":0.17},{"r":"pts","c":"bpm","v":0.58},{"r":"pts","c":"vorp","v":0.75},{"r":"pts","c":"fg","v":0.99},{"r":"pts","c":"fga","v":0.99},{"r":"pts","c":"fg%","v":0.14},{"r":"pts","c":"3p","v":0.59},{"r":"pts","c":"3pa","v":0.6},{"r":"pts","c":"2p","v":0.94},{"r":"pts","c":"2pa","v":0.95},{"r":"pts","c":"efg%","v":0.13},{"r":"pts","c":"ft","v":0.93},{"r":"pts","c":"fta","v":0.92},{"r":"pts","c":"ft%","v":0.28},{"r":"pts","c":"orb","v":0.5},{"r":"pts","c":"drb","v":0.76},{"r":"pts","c":"trb","v":0.7},{"r":"pts","c":"ast","v":0.71},{"r":"pts","c":"stl","v":0.8},{"r":"pts","c":"blk","v":0.46},{"r":"pts","c":"tov","v":0.91},{"r":"pts","c":"pf","v":0.76},{"r":"pts","c":"pts","v":1},
{"r":"tm","c":"age","v":0.0029},{"r":"tm","c":"g","v":0.041},{"r":"tm","c":"gs","v":0.021},{"r":"tm","c":"mp","v":0.015},{"r":"tm","c":"per","v":0.00029},{"r":"tm","c":"ts%","v":-0.005},{"r":"tm","c":"3par","v":-0.039},{"r":"tm","c":"ftr","v":-0.069},{"r":"tm","c":"orb%","v":0.029},{"r":"tm","c":"drb%","v":-0.014},{"r":"tm","c":"trb%","v":-0.021},{"r":"tm","c":"ast%","v":-0.017},{"r":"tm","c":"stl%","v":0.016},{"r":"tm","c":"blk%","v":0.066},{"r":"tm","c":"tov%","v":0.1},{"r":"tm","c":"usg%","v":0.028},{"r":"tm","c":"ows","v":0.0068},{"r":"tm","c":"dws","v":-0.029},{"r":"tm","c":"ws","v":0.0069},{"r":"tm","c":"ws/48","v":-0.01},{"r":"tm","c":"obpm","v":-0.0061},{"r":"tm","c":"dbpm","v":0.07},{"r":"tm","c":"bpm","v":0.032},{"r":"tm","c":"vorp","v":-0.0028},{"r":"tm","c":"fg","v":0.014},{"r":"tm","c":"fga","v":-0.014},{"r":"tm","c":"fg%","v":-0.0098},{"r":"tm","c":"3p","v":-0.025},{"r":"tm","c":"3pa","v":-0.028},{"r":"tm","c":"2p","v":-0.023},{"r":"tm","c":"2pa","v":-0.028},{"r":"tm","c":"efg%","v":-0.0054},{"r":"tm","c":"ft","v":0.004},{"r":"tm","c":"fta","v":-0.00077},{"r":"tm","c":"ft%","v":-0.021},{"r":"tm","c":"orb","v":0.03},{"r":"tm","c":"drb","v":-0.0053},{"r":"tm","c":"trb","v":-0.013},{"r":"tm","c":"ast","v":-0.003},{"r":"tm","c":"stl","v":-0.0068},{"r":"tm","c":"blk","v":-0.052},{"r":"tm","c":"tov","v":-0.016},{"r":"tm","c":"pf","v":0.045},{"r":"tm","c":"pts","v":-0.0088},{"r":"tm","c":"tm","v":1},
{"r":"position","c":"age","v":0.093},{"r":"position","c":"g","v":-0.0098},{"r":"position","c":"gs","v":-0.043},{"r":"position","c":"mp","v":-0.047},{"r":"position","c":"per","v":-0.14},{"r":"position","c":"ts%","v":-0.13},{"r":"position","c":"3par","v":0.55},{"r":"position","c":"ftr","v":-0.19},{"r":"position","c":"orb%","v":-0.67},{"r":"position","c":"drb%","v":-0.71},{"r":"position","c":"trb%","v":-0.75},{"r":"position","c":"ast%","v":0.51},{"r":"position","c":"stl%","v":0.19},{"r":"position","c":"blk%","v":-0.62},{"r":"position","c":"tov%","v":-0.043},{"r":"position","c":"usg%","v":0.12},{"r":"position","c":"ows","v":-0.066},{"r":"position","c":"dws","v":-0.19},{"r":"position","c":"ws","v":-0.12},{"r":"position","c":"ws/48","v":-0.13},{"r":"position","c":"obpm","v":0.22},{"r":"position","c":"dbpm","v":-0.42},{"r":"position","c":"bpm","v":-0.038},{"r":"position","c":"vorp","v":-0.069},{"r":"position","c":"fg","v":0.021},{"r":"position","c":"fga","v":0.1},{"r":"position","c":"fg%","v":-0.37},{"r":"position","c":"3p","v":0.4},{"r":"position","c":"3pa","v":0.41},{"r":"position","c":"2p","v":-0.1},{"r":"position","c":"2pa","v":-0.049},{"r":"position","c":"efg%","v":-0.15},{"r":"position","c":"ft","v":0.021},{"r":"position","c":"fta","v":-0.043},{"r":"position","c":"ft%","v":0.29},{"r":"position","c":"orb","v":-0.54},{"r":"position","c":"drb","v":-0.35},{"r":"position","c":"trb","v":-0.42},{"r":"position","c":"ast","v":0.34},{"r":"position","c":"stl","v":0.18},{"r":"position","c":"blk","v":-0.46},{"r":"position","c":"tov","v":0.11},{"r":"position","c":"pf","v":-0.19},{"r":"position","c":"pts","v":0.061},{"r":"position","c":"tm","v":-0.042},{"r":"position","c":"position","v":1},
{"r":"height","c":"age","v":-0.09},{"r":"height","c":"g","v":0.072},{"r":"height","c":"gs","v":0.052},{"r":"height","c":"mp","v":0.0044},{"r":"height","c":"per","v":0.12},{"r":"height","c":"ts%","v":0.13},{"r":"height","c":"3par","v":-0.4},{"r":"height","c":"ftr","v":0.1},{"r":"height","c":"orb%","v":0.58},{"r":"height","c":"drb%","v":0.65},{"r":"height","c":"trb%","v":0.67},{"r":"height","c":"ast%","v":-0.58},{"r":"height","c":"stl%","v":-0.21},{"r":"height","c":"blk%","v":0.57},{"r":"height","c":"tov%","v":-0.067},{"r":"height","c":"usg%","v":-0.099},{"r":"height","c":"ows","v":0.086},{"r":"height","c":"dws","v":0.2},{"r":"height","c":"ws","v":0.14},{"r":"height","c":"ws/48","v":0.12},{"r":"height","c":"obpm","v":-0.18},{"r":"height","c":"dbpm","v":0.37},{"r":"height","c":"bpm","v":0.043},{"r":"height","c":"vorp","v":0.09},{"r":"height","c":"fg","v":0.02},{"r":"height","c":"fga","v":-0.051},{"r":"height","c":"fg%","v":0.3},{"r":"height","c":"3p","v":-0.3},{"r":"height","c":"3pa","v":-0.31},{"r":"height","c":"2p","v":0.12},{"r":"height","c":"2pa","v":0.069},{"r":"height","c":"efg%","v":0.13},{"r":"height","c":"ft","v":0.018},{"r":"height","c":"fta","v":0.068},{"r":"height","c":"ft%","v":-0.19},{"r":"height","c":"orb","v":0.49},{"r":"height","c":"drb","v":0.35},{"r":"height","c":"trb","v":0.41},{"r":"height","c":"ast","v":-0.36},{"r":"height","c":"stl","v":-0.18},{"r":"height","c":"blk","v":0.49},{"r":"height","c":"tov","v":-0.11},{"r":"height","c":"pf","v":0.19},{"r":"height","c":"pts","v":-0.012},{"r":"height","c":"tm","v":0.092},{"r":"height","c":"position","v":-0.71},{"r":"height","c":"height","v":1},
{"r":"weight","c":"age","v":0.00032},{"r":"weight","c":"g","v":0.099},{"r":"weight","c":"gs","v":0.11},{"r":"weight","c":"mp","v":0.054},{"r":"weight","c":"per","v":0.22},{"r":"weight","c":"ts%","v":0.22},{"r":"weight","c":"3par","v":-0.46},{"r":"weight","c":"ftr","v":0.2},{"r":"weight","c":"orb%","v":0.61},{"r":"weight","c":"drb%","v":0.66},{"r":"weight","c":"trb%","v":0.69},{"r":"weight","c":"ast%","v":-0.5},{"r":"weight","c":"stl%","v":-0.24},{"r":"weight","c":"blk%","v":0.5},{"r":"weight","c":"tov%","v":-0.061},{"r":"weight","c":"usg%","v":-0.022},{"r":"weight","c":"ows","v":0.17},{"r":"weight","c":"dws","v":0.26},{"r":"weight","c":"ws","v":0.21},{"r":"weight","c":"ws/48","v":0.21},{"r":"weight","c":"obpm","v":-0.081},{"r":"weight","c":"dbpm","v":0.33},{"r":"weight","c":"bpm","v":0.11},{"r":"weight","c":"vorp","v":0.14},{"r":"weight","c":"fg","v":0.095},{"r":"weight","c":"fga","v":0.018},{"r":"weight","c":"fg%","v":0.38},{"r":"weight","c":"3p","v":-0.3},{"r":"weight","c":"3pa","v":-0.32},{"r":"weight","c":"2p","v":0.2},{"r":"weight","c":"2pa","v":0.15},{"r":"weight","c":"efg%","v":0.21},{"r":"weight","c":"ft","v":0.098},{"r":"weight","c":"fta","v":0.15},{"r":"weight","c":"ft%","v":-0.18},{"r":"weight","c":"orb","v":0.56},{"r":"weight","c":"drb","v":0.41},{"r":"weight","c":"trb","v":0.47},{"r":"weight","c":"ast","v":-0.28},{"r":"weight","c":"stl","v":-0.11},{"r":"weight","c":"blk","v":0.47},{"r":"weight","c":"tov","v":-0.021},{"r":"weight","c":"pf","v":0.25},{"r":"weight","c":"pts","v":0.061},{"r":"weight","c":"tm","v":0.055},{"r":"weight","c":"position","v":-0.71},{"r":"weight","c":"height","v":0.83},{"r":"weight","c":"weight","v":1},
{"r":"salary","c":"age","v":0.045},{"r":"salary","c":"g","v":0.47},{"r":"salary","c":"gs","v":0.62},{"r":"salary","c":"mp","v":0.62},{"r":"salary","c":"per","v":0.42},{"r":"salary","c":"ts%","v":0.25},{"r":"salary","c":"3par","v":-0.13},{"r":"salary","c":"ftr","v":0.12},{"r":"salary","c":"orb%","v":0.058},{"r":"salary","c":"drb%","v":0.15},{"r":"salary","c":"trb%","v":0.12},{"r":"salary","c":"ast%","v":0.16},{"r":"salary","c":"stl%","v":0.073},{"r":"salary","c":"blk%","v":0.08},{"r":"salary","c":"tov%","v":-0.047},{"r":"salary","c":"usg%","v":0.3},{"r":"salary","c":"ows","v":0.66},{"r":"salary","c":"dws","v":0.62},{"r":"salary","c":"ws","v":0.69},{"r":"salary","c":"ws/48","v":0.34},{"r":"salary","c":"obpm","v":0.41},{"r":"salary","c":"dbpm","v":0.25},{"r":"salary","c":"bpm","v":0.47},{"r":"salary","c":"vorp","v":0.63},{"r":"salary","c":"fg","v":0.63},{"r":"salary","c":"fga","v":0.6},{"r":"salary","c":"fg%","v":0.19},{"r":"salary","c":"3p","v":0.37},{"r":"salary","c":"3pa","v":0.36},{"r":"salary","c":"2p","v":0.59},{"r":"salary","c":"2pa","v":0.58},{"r":"salary","c":"efg%","v":0.17},{"r":"salary","c":"ft","v":0.61},{"r":"salary","c":"fta","v":0.62},{"r":"salary","c":"ft%","v":0.11},{"r":"salary","c":"orb","v":0.45},{"r":"salary","c":"drb","v":0.58},{"r":"salary","c":"trb","v":0.56},{"r":"salary","c":"ast","v":0.43},{"r":"salary","c":"stl","v":0.55},{"r":"salary","c":"blk","v":0.39},{"r":"salary","c":"tov","v":0.56},{"r":"salary","c":"pf","v":0.53},{"r":"salary","c":"pts","v":0.64},{"r":"salary","c":"tm","v":0.025},{"r":"salary","c":"position","v":-0.093},{"r":"salary","c":"height","v":0.083},{"r":"salary","c":"weight","v":0.15},{"r":"salary","c":"salary","v":1}
]},
"encoding": {
"x": {"field": "c", "type": "nominal", "sort": ["age","g","gs","mp","per","ts%","3par","ftr","orb%","drb%","trb%","ast%","stl%","blk%","tov%","usg%","ows","dws","ws","ws/48","obpm","dbpm","bpm","vorp","fg","fga","fg%","3p","3pa","2p","2pa","efg%","ft","fta","ft%","orb","drb","trb","ast","stl","blk","tov","pf","pts","tm","position","height","weight","salary"], "scale": {"paddingInner": 0, "paddingOuter": 0}, "axis": {"labelAngle": -90, "orient": "bottom"}},
"y": {"field": "r", "type": "nominal", "sort": ["age","g","gs","mp","per","ts%","3par","ftr","orb%","drb%","trb%","ast%","stl%","blk%","tov%","usg%","ows","dws","ws","ws/48","obpm","dbpm","bpm","vorp","fg","fga","fg%","3p","3pa","2p","2pa","efg%","ft","fta","ft%","orb","drb","trb","ast","stl","blk","tov","pf","pts","tm","position","height","weight","salary"], "scale": {"paddingInner": 0, "paddingOuter": 0}, "axis": {"labelAngle": 0}}
},
"layer": [
{"mark": {"type": "rect", "strokeWidth": 0},
 "encoding": {"color": {"field": "v", "type": "quantitative",
   "scale": {"domain": [-1, -0.7142857, -0.4285714, -0.1428571, 0.1428571, 0.4285714, 0.7142857, 1], "range": ["#03051a", "#35193e", "#701f57", "#ad1759", "#e13342", "#f37651", "#f6b48f", "#faebdd"], "interpolate": "rgb"},
   "legend": {"title": null, "orient": "right", "direction": "vertical", "gradientLength": 2311, "gradientThickness": 68, "offset": 121, "values": [-1, -0.75, -0.5, -0.25, 0, 0.25, 0.5, 0.75, 1], "format": ".2f", "labelFont": "DejaVu Sans", "labelFontSize": 13.9, "labelColor": "black", "labelOffset": 10, "labelBaseline": "middle", "gradientStrokeWidth": 0}}}},
{"mark": {"type": "text", "font": "DejaVu Sans", "fontSize": 13.9, "align": "center", "baseline": "middle"},
 "encoding": {"text": {"field": "v", "type": "quantitative", "format": ".2~g"},
   "color": {"condition": {"test": "datum.v > 0.545", "value": "#262626"}, "value": "white"}}}
]
}
